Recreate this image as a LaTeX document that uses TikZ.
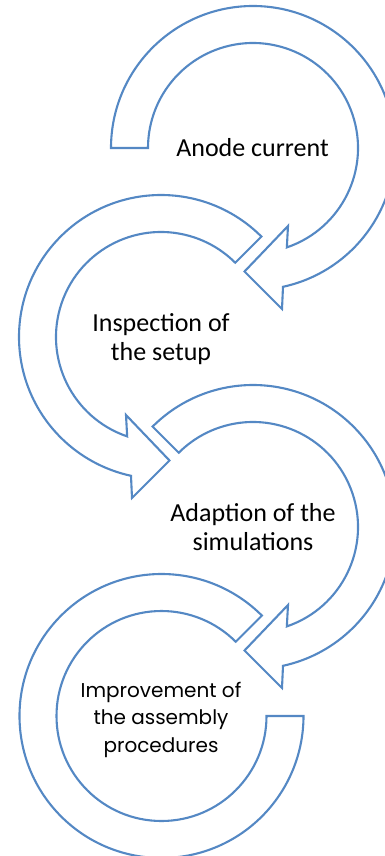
\documentclass[tikz,border=0pt]{standalone}
\usepackage{fontspec}
\setmainfont{Carlito}
\newfontfamily\gothicfont{Poppins}
\usetikzlibrary{calc}
\definecolor{ringblue}{RGB}{84,136,196}
\tikzset{
  ringarrow/.style={draw=ringblue,line width=2.1pt,fill=white,line join=miter},
  lbl/.style={align=center,inner sep=0pt,anchor=base,font=\fontsize{26}{29}\selectfont},
  lblg/.style={align=center,inner sep=0pt,anchor=base,font=\gothicfont\fontsize{20}{27.5}\selectfont}
}
\begin{document}
\begin{tikzpicture}[x=1pt,y=1pt]
\useasboundingbox (0,0) rectangle (385,-856);
\clip (0,0) rectangle (385,-856);
\coordinate (c1) at (253,-148);
\coordinate (c2) at (161,-337);
\coordinate (c3) at (253,-527);
\coordinate (c4) at (161.5,-716);
% arrow 1
\draw[ringarrow] ($(c1)+(180:142)$) arc[start angle=180,end angle=-77.8,radius=142]
  -- ($(c1)+(29,-161)$) -- ($(c1)+(-8.5,-123.5)$) -- ($(c1)+(35,-78)$)
  -- ($(c1)+(-71.2:105)$) arc[start angle=-71.2,end angle=180,radius=105] -- cycle;
% arrow 2
\draw[ringarrow] ($(c2)+(45:142)$) arc[start angle=45,end angle=257.8,radius=142]
  -- ($(c2)+(-29,-161)$) -- ($(c2)+(8.5,-123.5)$) -- ($(c2)+(-35,-78)$)
  -- ($(c2)+(251.2:105)$) arc[start angle=251.2,end angle=45,radius=105] -- cycle;
% arrow 3
\draw[ringarrow] ($(c3)+(135:142)$) arc[start angle=135,end angle=-77.8,radius=142]
  -- ($(c3)+(29,-161)$) -- ($(c3)+(-8.5,-123.5)$) -- ($(c3)+(35,-78)$)
  -- ($(c3)+(-71.2:105)$) arc[start angle=-71.2,end angle=135,radius=105] -- cycle;
% ring 4
\draw[ringarrow] ($(c4)+(45:142)$) arc[start angle=45,end angle=360,radius=142]
  -- ($(c4)+(0:105)$) arc[start angle=360,end angle=45,radius=105] -- cycle;
% labels
\node[lbl] (t1) at (252.5,-157) {Anode current};
\node[lbl] (t2) at (161,-360) {Inspection of\\the setup};
\node[lbl] (t3) at (253,-550) {Adaption of the\\simulations};
\node[lblg] (t4) at (161,-752) {Improvement of\\the assembly\\procedures};
\end{tikzpicture}
\end{document}
